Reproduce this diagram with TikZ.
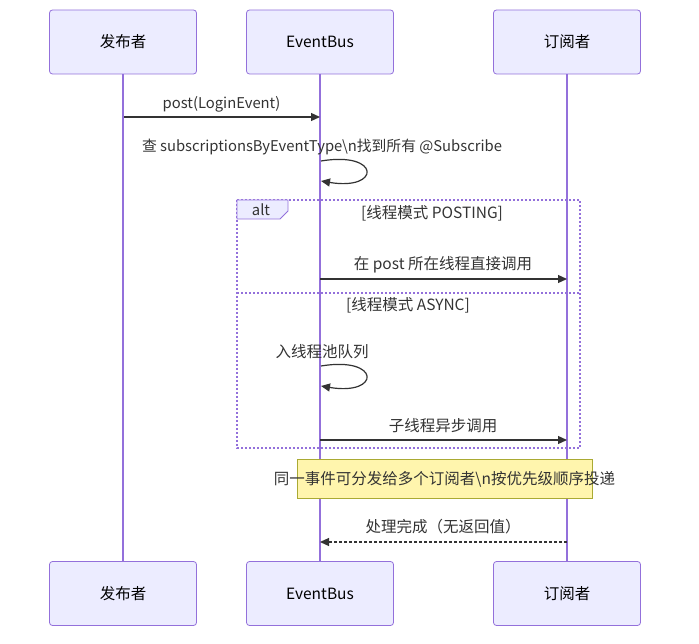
\documentclass[tikz,border=0pt]{standalone}
\usepackage{fontspec}
\setmainfont{Noto Sans CJK SC}
\usetikzlibrary{arrows.meta}
\definecolor{actfill}{HTML}{ECECFF}
\definecolor{actline}{HTML}{9370DB}
\definecolor{txt}{HTML}{333333}
\definecolor{notefill}{HTML}{FFF5AD}
\definecolor{noteline}{HTML}{AAAA33}
\tikzset{
  actor/.style={draw=actline, fill=actfill, line width=0.8pt, rounded corners=3pt, minimum width=147pt, minimum height=64pt, inner sep=0pt, font=\fontsize{15.5}{18}\selectfont, text=black},
  life/.style={draw=actline, line width=2pt},
  msg/.style={draw=txt, line width=1.2pt, -{Triangle[length=9pt,width=8pt]}},
  ret/.style={msg, dash pattern=on 3pt off 2pt},
  lbl/.style={font=\fontsize{15.5}{18}\selectfont, text=txt, inner sep=0pt},
  lbll/.style={lbl, font=\fontsize{14.8}{18}\selectfont},
  altbox/.style={draw=actline, line width=2pt, dash pattern=on 2pt off 2pt},
}
\begin{document}
\begin{tikzpicture}[x=1pt,y=-1pt]
\useasboundingbox (0,0) rectangle (699,644);
% actors
\node[actor] (p1) at (123,42) {发布者};
\node[actor] (b1) at (320,42) {EventBus};
\node[actor] (s1) at (567,42) {订阅者};
\node[actor] (p2) at (123,593.5) {发布者};
\node[actor] (b2) at (320,593.5) {EventBus};
\node[actor] (s2) at (567,593.5) {订阅者};
% lifelines
\draw[life] (p1.south) -- (p2.north);
\draw[life] (b1.south) -- (b2.north);
\draw[life] (s1.south) -- (s2.north);
% coordinates on lifelines
\coordinate (pA) at (124,117);
\coordinate (bA) at (320,117);
% message 1
\draw[msg] (pA) -- (bA);
\node[lbll] (m1) at (221.5,104) {post(LoginEvent)};
% self loop 1
\coordinate (l1s) at (321,161);
\coordinate (l1e) at (321,181);
\node[lbll] (m2) at (322,147) {查 subscriptionsByEventType\textbackslash n找到所有 @Subscribe};
\draw[msg] (l1s) .. controls (381,151) and (381,191) .. (l1e);
% alt box
\draw[altbox] (237,200) rectangle (580,448);
\draw[actline, line width=0.8pt, fill=actfill] (237,200) -- (288,200) -- (288,211) -- (280,219) -- (237,219) -- cycle;
\node[lbll] (alt) at (261,210) {alt};
\node[lbl] (c1) at (432,213) {[线程模式 POSTING]};
\coordinate (bB) at (320,279);
\coordinate (sB) at (567,279);
\draw[msg] (bB) -- (sB);
\node[lbl] (m3) at (443,265) {在 post 所在线程直接调用};
\draw[altbox] (237,293) -- (580,293);
\node[lbl] (c2) at (408,305) {[线程模式 ASYNC]};
% self loop 2
\coordinate (l2s) at (321,366);
\coordinate (l2e) at (321,386);
\node[lbl] (m4) at (322,352) {入线程池队列};
\draw[msg] (l2s) .. controls (381,356) and (381,396) .. (l2e);
\coordinate (bC) at (320,440);
\coordinate (sC) at (567,440);
\draw[msg] (bC) -- (sC);
\node[lbl] (m5) at (443,426) {子线程异步调用};
% note
\node[draw=noteline, fill=notefill, line width=0.8pt, minimum width=295pt, minimum height=39pt, inner sep=0pt] (note) at (444.5,478.5) {};
\node[lbl] (nt) at (444.5,479) {同一事件可分发给多个订阅者\textbackslash n按优先级顺序投递};
% return
\coordinate (sD) at (567,542);
\coordinate (bD) at (320,542);
\draw[ret] (sD) -- (bD);
\node[lbl] (m6) at (443,527) {处理完成（无返回值）};
\end{tikzpicture}
\end{document}
